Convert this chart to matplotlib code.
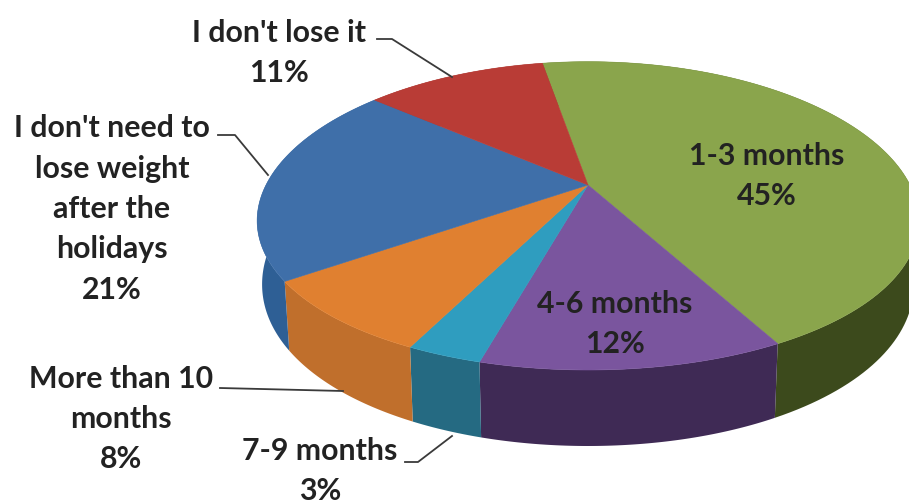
import numpy as np
import matplotlib
matplotlib.use("Agg")
import matplotlib.pyplot as plt

# slices, clockwise from the green one
shares = [45, 12, 3, 8, 21, 11]
top_colors = ["#8aa54c", "#7a559e", "#2f9dbf", "#e08030", "#3f6fa9", "#b93c36"]
side_colors = ["#3c4a1c", "#3f2a55", "#256a82", "#c06f2c", "#2e5f95", "#8a2d28"]

labels = [
    ("1-3 months\n45%", 767, 176),
    ("4-6 months\n12%", 615, 324),
    ("7-9 months\n3%", 320, 471),
    ("More than 10\nmonths\n8%", 121, 419),
    ("I don't need to\nlose weight\nafter the\nholidays\n21%", 112, 209),
    ("I don't lose it\n11%", 279, 53),
]

# leader lines
leaders = [
    ([377, 392, 452], [39, 39, 77]),
    ([218, 235, 268], [135, 135, 175]),
    ([220, 343], [388, 391]),
    ([405, 418, 452], [462, 462, 436]),
]

# pie geometry in picture pixels
cx, cy = 588, 185
rx, ry = 322, 148
persp_x, persp_y = 0.23, 0.2
start = -10


def project(ang, depth=False):
    a = np.radians(ang)
    u, v = np.sin(a), np.cos(a)
    x = cx + rx * u / (1 + persp_x * v)
    y = cy - ry * v / (1 + persp_y * v)
    if depth:
        x = cx + (x - cx) * 0.985
        y = y + 60 - 16 * v
    return x, y


fig = plt.figure(figsize=(9.09, 5.04), dpi=100)
ax = fig.add_axes([0, 0, 1, 1])
ax.set_xlim(0, 909)
ax.set_ylim(504, 0)
ax.axis("off")

edges = start + np.cumsum([0] + shares) * 3.6

# sides first, then the top faces over them
for i in range(len(shares)):
    ang = np.linspace(edges[i], edges[i + 1], 120)
    xt, yt = project(ang)
    xb, yb = project(ang, depth=True)
    ax.fill(np.r_[xt, xb[::-1]], np.r_[yt, yb[::-1]], color=side_colors[i], lw=0, zorder=1)

for i in range(len(shares)):
    ang = np.linspace(edges[i], edges[i + 1], 120)
    xt, yt = project(ang)
    ax.fill(np.r_[cx, xt], np.r_[cy, yt], color=top_colors[i], lw=0.4,
            ec=top_colors[i], zorder=2)

for xs, ys in leaders:
    ax.plot(xs, ys, color="#3a3a3a", lw=1.3, zorder=3)

for txt, x, y in labels:
    ax.text(x, y, txt, ha="center", va="center", family="Lato", weight="bold",
            fontsize=21.8, color="#222222", linespacing=1.54, zorder=4)

fig.savefig("out.png", dpi=100)
